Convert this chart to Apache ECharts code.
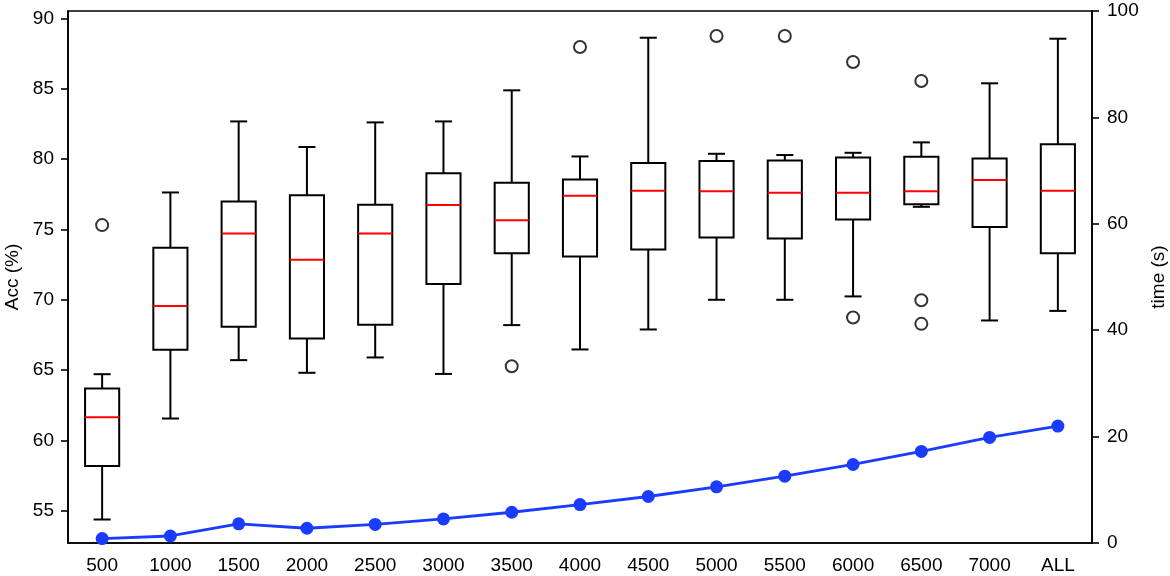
<!DOCTYPE html>
<html>
<head>
<meta charset="utf-8">
<script src="https://cdn.jsdelivr.net/npm/echarts@6/dist/echarts.min.js"></script>
<style>
  html, body { margin: 0; padding: 0; background: #fff; }
  #main { width: 1170px; height: 576px; }
</style>
</head>
<body>
<div id="main"></div>
<script>
// categories (sample size)
var categories = ['500', '1000', '1500', '2000', '2500', '3000', '3500', '4000', '4500', '5000', '5500', '6000', '6500', '7000', 'ALL'];

// box plot stats, Acc (%)
var whiskerLow  = [54.37, 61.55, 65.70, 64.80, 65.89, 64.72, 68.19, 66.46, 67.88, 69.99, 69.99, 70.23, 76.60, 68.52, 69.20];
var q1          = [58.18, 66.43, 68.07, 67.24, 68.21, 71.12, 73.29, 73.07, 73.57, 74.42, 74.35, 75.70, 76.79, 75.16, 73.29];
var medians     = [61.64, 69.54, 74.71, 72.83, 74.71, 76.72, 75.65, 77.38, 77.74, 77.70, 77.60, 77.60, 77.70, 78.50, 77.74];
var q3          = [63.68, 73.69, 76.98, 77.43, 76.74, 78.98, 78.31, 78.55, 79.71, 79.85, 79.90, 80.11, 80.16, 80.04, 81.04];
var whiskerHigh = [64.70, 77.62, 82.67, 80.85, 82.60, 82.67, 84.88, 80.18, 88.62, 80.37, 80.28, 80.44, 81.18, 85.38, 88.55];

// fliers [category, Acc]
var outliers = [
  ['500', 75.30], ['3500', 65.27], ['4000', 87.96], ['5000', 88.74], ['5500', 88.74],
  ['6000', 86.89], ['6000', 68.73], ['6500', 85.54], ['6500', 69.96], ['6500', 68.28]
];

// time (s), right axis
var timeSec = [0.83, 1.32, 3.60, 2.77, 3.50, 4.52, 5.78, 7.23, 8.74, 10.55, 12.56, 14.76, 17.21, 19.85, 21.98];

// tick labels
var accTicks = [55, 60, 65, 70, 75, 80, 85, 90];

var FONT = 'Liberation Sans, Arial, sans-serif';
var FS = 19;

var myChart = echarts.init(document.getElementById('main'));

var boxData = categories.map(function (c, i) {
  return [i, whiskerLow[i], q1[i], medians[i], q3[i], whiskerHigh[i]];
});

function renderBox(params, api) {
  var x = api.value(0);
  var pLo = api.coord([x, api.value(1)]);
  var pQ1 = api.coord([x, api.value(2)]);
  var pMed = api.coord([x, api.value(3)]);
  var pQ3 = api.coord([x, api.value(4)]);
  var pHi = api.coord([x, api.value(5)]);
  var band = api.size([1, 0])[0];
  var hw = band * 0.25;   // half box width
  var cw = band * 0.125;  // half cap width
  var cx = pMed[0];
  var black = { stroke: '#000', lineWidth: 2, fill: null };
  return {
    type: 'group',
    children: [
      { type: 'line', shape: { x1: cx, y1: pQ1[1], x2: cx, y2: pLo[1] }, style: black },
      { type: 'line', shape: { x1: cx, y1: pQ3[1], x2: cx, y2: pHi[1] }, style: black },
      { type: 'line', shape: { x1: cx - cw, y1: pLo[1], x2: cx + cw, y2: pLo[1] }, style: black },
      { type: 'line', shape: { x1: cx - cw, y1: pHi[1], x2: cx + cw, y2: pHi[1] }, style: black },
      { type: 'rect', shape: { x: cx - hw, y: pQ3[1], width: hw * 2, height: pQ1[1] - pQ3[1] },
        style: { stroke: '#000', lineWidth: 2, fill: 'rgba(0,0,0,0)' } },
      { type: 'line', shape: { x1: cx - hw, y1: pMed[1], x2: cx + hw, y2: pMed[1] },
        style: { stroke: '#ff0000', lineWidth: 2 } }
    ]
  };
}

var option = {
  animation: false,
  backgroundColor: '#fff',
  textStyle: { fontFamily: FONT },
  grid: {
    left: 68, right: 78, top: 11, bottom: 33,
    outerBoundsMode: 'none',
    containLabel: false,
    show: true, borderColor: '#000', borderWidth: 1.6, backgroundColor: 'transparent'
  },
  xAxis: {
    type: 'category',
    data: categories,
    boundaryGap: true,
    axisLine: { lineStyle: { color: '#000', width: 1.6 } },
    axisTick: { alignWithLabel: true, length: 7, lineStyle: { color: '#000', width: 1.6 } },
    axisLabel: { color: '#000', fontSize: FS, margin: 13, interval: 0, fontFamily: FONT },
    splitLine: { show: false }
  },
  yAxis: [
    {
      type: 'value',
      name: 'Acc (%)',
      nameLocation: 'middle',
      nameGap: 44,
      nameTextStyle: { color: '#000', fontSize: FS, fontFamily: FONT },
      min: 52.7,
      max: 90.52,
      axisLine: { show: true, lineStyle: { color: '#000', width: 1.6 } },
      axisTick: { show: true, length: 7, customValues: accTicks, lineStyle: { color: '#000', width: 1.6 } },
      axisLabel: { color: '#000', fontSize: FS, margin: 14, customValues: accTicks, fontFamily: FONT },
      splitLine: { show: false }
    },
    {
      type: 'value',
      name: 'time (s)',
      nameLocation: 'middle',
      nameGap: 51,
      nameTextStyle: { color: '#000', fontSize: FS, fontFamily: FONT },
      min: 0,
      max: 100,
      interval: 20,
      position: 'right',
      axisLine: { show: true, lineStyle: { color: '#000', width: 1.6 } },
      axisTick: { show: true, length: 7, lineStyle: { color: '#000', width: 1.6 } },
      axisLabel: { color: '#000', fontSize: FS, margin: 15, fontFamily: FONT },
      splitLine: { show: false }
    }
  ],
  series: [
    {
      name: 'Acc',
      type: 'custom',
      yAxisIndex: 0,
      renderItem: renderBox,
      encode: { x: 0, y: [1, 2, 3, 4, 5] },
      data: boxData,
      z: 2
    },
    {
      name: 'outliers',
      type: 'scatter',
      yAxisIndex: 0,
      symbol: 'circle',
      symbolSize: 12,
      itemStyle: { color: '#fff', borderColor: '#000', borderWidth: 2 },
      data: outliers,
      z: 3
    },
    {
      name: 'time',
      type: 'line',
      yAxisIndex: 1,
      data: timeSec,
      symbol: 'circle',
      symbolSize: 13,
      lineStyle: { color: '#1a3cff', width: 2.8 },
      itemStyle: { color: '#1a3cff' },
      z: 4
    }
  ]
};

myChart.setOption(option);
</script>
</body>
</html>
